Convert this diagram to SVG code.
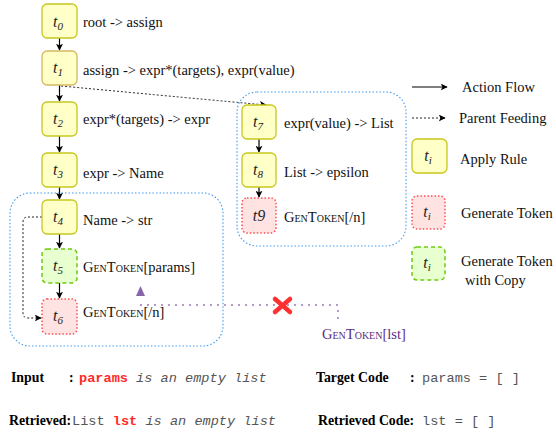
<svg xmlns="http://www.w3.org/2000/svg" width="556" height="434" viewBox="0 0 556 434">
<style>
.rule{fill:#ffffc8;stroke:#c8c81e;stroke-width:1.3}
.gen{fill:#ffe3e3;stroke:#ff5050;stroke-width:1.5;stroke-dasharray:1.5 2}
.copy{fill:#e8ffd0;stroke:#6ccc10;stroke-width:1.5;stroke-dasharray:4 3}
.grp{fill:none;stroke:#3d9cf0;stroke-width:1.1;stroke-dasharray:1.5 2}
.lbl{font-family:"Liberation Serif",serif;font-size:14.5px;fill:#111}
.tk{font-variant:small-caps}
.ti{font-family:"Liberation Serif",serif;font-style:italic;font-size:16px;fill:#222;text-anchor:middle}
.flow{stroke:#000;stroke-width:1.2;fill:none}
.feed{stroke:#222;stroke-width:1;fill:none;stroke-dasharray:2 2}
.b{font-family:"Liberation Serif",serif;font-weight:bold;font-size:13.8px;fill:#000}
.m{font-family:"Liberation Mono",monospace;font-size:13.6px;fill:#555}
.mr{font-family:"Liberation Mono",monospace;font-size:13.6px;fill:#ff2a2a;font-weight:bold}
</style>
<defs>
<marker id="ah" viewBox="0 0 10 10" refX="9" refY="5" markerWidth="7" markerHeight="7" orient="auto" markerUnits="userSpaceOnUse">
<path d="M0,0 L10,5 L0,10 L2.5,5 z" fill="#000"/>
</marker>
</defs>

<rect class="grp" x="237" y="92" width="169" height="154" rx="20"/>
<rect class="grp" x="10" y="193" width="213" height="153" rx="20"/>

<g id="connectors">
<line class="flow" x1="59.5" y1="38" x2="59.5" y2="50" marker-end="url(#ah)"/>
<line class="flow" x1="59.5" y1="85" x2="59.5" y2="101" marker-end="url(#ah)"/>
<line class="flow" x1="59.5" y1="136" x2="59.5" y2="152" marker-end="url(#ah)"/>
<line class="flow" x1="59.5" y1="187" x2="59.5" y2="199" marker-end="url(#ah)"/>
<line class="flow" x1="59.5" y1="234" x2="59.5" y2="248" marker-end="url(#ah)"/>
<line class="flow" x1="59.5" y1="283" x2="59.5" y2="298" marker-end="url(#ah)"/>
<line class="flow" x1="259" y1="139" x2="259" y2="152" marker-end="url(#ah)"/>
<line class="flow" x1="259" y1="187" x2="259" y2="197" marker-end="url(#ah)"/>
<path class="feed" d="M61,86 Q200,99 266,105" marker-end="url(#ah)"/>
<path class="feed" d="M42,217 H28 Q23,217 23,222 V313 Q23,318 28,318 H41" marker-end="url(#ah)"/>
</g>

<g id="t0"><rect class="rule" x="42" y="4" width="35" height="34" rx="5"/><text class="ti" x="58" y="27">t<tspan font-size="11" dy="3">0</tspan></text><text class="lbl" x="83" y="27">root -&gt; assign</text></g>
<g id="t1"><rect class="rule" x="42" y="51" width="35" height="34" rx="5" style="stroke:#d8b860"/><text class="ti" x="58" y="73">t<tspan font-size="11" dy="3">1</tspan></text><text class="lbl" x="83" y="75">assign -&gt; expr*(targets), expr(value)</text></g>
<g id="t2"><rect class="rule" x="42" y="102" width="35" height="34" rx="5"/><text class="ti" x="58" y="124">t<tspan font-size="11" dy="3">2</tspan></text><text class="lbl" x="83" y="124">expr*(targets) -&gt; expr</text></g>
<g id="t3"><rect class="rule" x="42" y="153" width="35" height="34" rx="5"/><text class="ti" x="58" y="175">t<tspan font-size="11" dy="3">3</tspan></text><text class="lbl" x="83" y="178">expr -&gt; Name</text></g>
<g id="t4"><rect class="rule" x="42" y="200" width="35" height="34" rx="5"/><text class="ti" x="58" y="222">t<tspan font-size="11" dy="3">4</tspan></text><text class="lbl" x="83" y="225">Name -&gt; str</text></g>
<g id="t5"><rect class="copy" x="42" y="249" width="35" height="34" rx="5"/><text class="ti" x="58" y="271">t<tspan font-size="11" dy="3">5</tspan></text><text class="lbl" x="83" y="272"><tspan class="tk">GenToken</tspan>[params]</text></g>
<g id="t6"><rect class="gen" x="42" y="299" width="35" height="35" rx="5"/><text class="ti" x="58" y="321">t<tspan font-size="11" dy="3">6</tspan></text><text class="lbl" x="83" y="317"><tspan class="tk">GenToken</tspan>[/n]</text></g>
<g id="t7"><rect class="rule" x="242" y="105" width="34" height="34" rx="5"/><text class="ti" x="258" y="127">t<tspan font-size="11" dy="3">7</tspan></text><text class="lbl" x="284" y="128">expr(value) -&gt; List</text></g>
<g id="t8"><rect class="rule" x="242" y="153" width="34" height="34" rx="5"/><text class="ti" x="258" y="175">t<tspan font-size="11" dy="3">8</tspan></text><text class="lbl" x="284" y="177">List -&gt; epsilon</text></g>
<g id="t9"><rect class="gen" x="242" y="198" width="34" height="35" rx="5"/><text class="ti" x="259" y="221" font-size="14">t9</text><text class="lbl" x="284" y="222"><tspan class="tk">GenToken</tspan>[/n]</text></g>

<g id="legend">
<line class="flow" x1="412" y1="87" x2="447" y2="87" marker-end="url(#ah)"/>
<text class="lbl" x="462" y="92">Action Flow</text>
<line class="feed" x1="412" y1="118" x2="445" y2="118" marker-end="url(#ah)"/>
<text class="lbl" x="459" y="123">Parent Feeding</text>
<rect class="rule" x="412" y="139" width="35" height="34" rx="5"/><text class="ti" x="428" y="161">t<tspan font-size="11" dy="3">i</tspan></text>
<text class="lbl" x="460" y="164">Apply Rule</text>
<rect class="gen" x="412" y="196" width="33" height="33" rx="5"/><text class="ti" x="427" y="217">t<tspan font-size="11" dy="3">i</tspan></text>
<text class="lbl" x="461" y="218">Generate Token</text>
<rect class="copy" x="412" y="247" width="33" height="33" rx="5"/><text class="ti" x="427" y="268">t<tspan font-size="11" dy="3">i</tspan></text>
<text class="lbl" x="461" y="266">Generate Token</text>
<text class="lbl" x="465" y="285">with Copy</text>
</g>

<g id="retrieval">
<polygon points="140.5,286 136,296 145,296" fill="#8a64a8"/>
<path d="M141,305 H338 V323" fill="none" stroke="#9a78b8" stroke-width="2" stroke-linecap="round" stroke-dasharray="0 7"/>
<g stroke="#ff3030" stroke-width="4.5" stroke-linecap="round">
<line x1="275" y1="299" x2="290" y2="312"/><line x1="290" y1="299" x2="275" y2="312"/>
</g>
<text class="lbl" x="322" y="339" style="fill:#5b2c83"><tspan class="tk">GenToken</tspan>[lst]</text>
</g>

<g id="bottom">
<text class="b" x="11" y="382">Input</text>
<text class="b" x="69" y="382">:</text>
<text x="79" y="382"><tspan class="mr">params</tspan><tspan class="m" font-style="italic"> is an empty list</tspan></text>
<text class="b" x="316" y="382">Target Code</text>
<text class="b" x="410" y="382">:</text>
<text class="m" x="422" y="382">params = [ ]</text>
<text class="b" x="9" y="425">Retrieved:</text>
<text x="72" y="425"><tspan class="m">List </tspan><tspan class="mr">lst</tspan><tspan class="m" font-style="italic"> is an empty list</tspan></text>
<text class="b" x="318" y="425">Retrieved Code:</text>
<text class="m" x="422" y="425">lst = [ ]</text>
</g>
</svg>
